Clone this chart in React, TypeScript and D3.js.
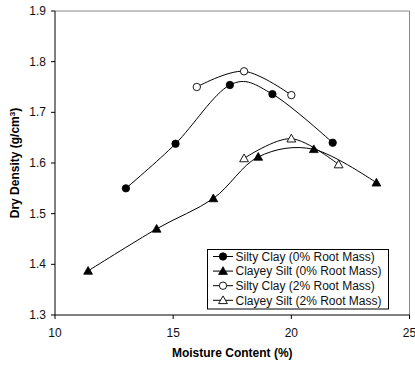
import React from "react";
import * as d3 from "d3";

const xTicks = [10, 15, 20, 25];
const yTicks = [1.3, 1.4, 1.5, 1.6, 1.7, 1.8, 1.9];

const siltyClay0X = [13.0, 15.1, 17.4, 19.2, 21.75];
const siltyClay0Y = [1.55, 1.638, 1.754, 1.736, 1.64];
const clayeySilt0X = [11.4, 14.3, 16.7, 18.6, 20.95, 23.6];
const clayeySilt0Y = [1.387, 1.47, 1.53, 1.612, 1.627, 1.561];
const siltyClay2X = [16.0, 18.0, 20.0];
const siltyClay2Y = [1.75, 1.781, 1.734];
const clayeySilt2X = [18.0, 20.0, 22.0];
const clayeySilt2Y = [1.609, 1.648, 1.597];

const seriesNames = [
  "Silty Clay (0% Root Mass)",
  "Clayey Silt (0% Root Mass)",
  "Silty Clay (2% Root Mass)",
  "Clayey Silt (2% Root Mass)",
];

type Series = { name: string; xs: number[]; ys: number[]; shape: "circle" | "triangle"; filled: boolean };

const series: Series[] = [
  { name: seriesNames[0], xs: siltyClay0X, ys: siltyClay0Y, shape: "circle", filled: true },
  { name: seriesNames[1], xs: clayeySilt0X, ys: clayeySilt0Y, shape: "triangle", filled: true },
  { name: seriesNames[2], xs: siltyClay2X, ys: siltyClay2Y, shape: "circle", filled: false },
  { name: seriesNames[3], xs: clayeySilt2X, ys: clayeySilt2Y, shape: "triangle", filled: false },
];

const FONT = "'Liberation Sans', Arial, sans-serif";

function Marker({ x, y, shape, filled }: { x: number; y: number; shape: string; filled: boolean }) {
  const fill = filled ? "#000" : "#fff";
  if (shape === "circle") {
    return <circle cx={x} cy={y} r={3.7} fill={fill} stroke="#000" strokeWidth={filled ? 0.8 : 0.9} />;
  }
  const s = 4.4;
  const pts = `${x},${y - s} ${x + s},${y + s * 0.75} ${x - s},${y + s * 0.75}`;
  return <polygon points={pts} fill={fill} stroke="#000" strokeWidth={filled ? 0.8 : 0.9} />;
}

export default function App() {
  const W = 415;
  const H = 367;
  const left = 55;
  const right = 409.5;
  const top = 11;
  const bottom = 315;
  const x = d3.scaleLinear().domain([10, 25]).range([left, right]);
  const y = d3.scaleLinear().domain([1.3, 1.9]).range([bottom, top]);
  const line = d3
    .line<[number, number]>()
    .x((d) => x(d[0]))
    .y((d) => y(d[1]))
    .curve(d3.curveCardinal.tension(0));

  const legX = 207.5;
  const legY = 249.5;
  const legW = 181;
  const legH = 59.5;
  const rowY = (i: number) => 256.5 + i * 14.6;

  return (
    <svg width={W} height={H} style={{ position: "absolute", left: 0, top: 0, background: "#fff" }} fontFamily={FONT}>
      <rect x={0} y={0} width={W} height={H} fill="#fff" />
      {/* plot frame */}
      <line x1={left} y1={top} x2={right} y2={top} stroke="#888" strokeWidth={1} />
      <line x1={right} y1={top} x2={right} y2={bottom} stroke="#888" strokeWidth={1} />
      <line x1={left} y1={top} x2={left} y2={bottom} stroke="#000" strokeWidth={1} />
      <line x1={left} y1={bottom} x2={right} y2={bottom} stroke="#000" strokeWidth={1} />
      {/* y ticks */}
      {yTicks.map((t) => (
        <g key={"y" + t}>
          <line x1={left - 4} x2={left} y1={y(t)} y2={y(t)} stroke="#000" />
          <text x={left - 9} y={y(t) + 4} textAnchor="end" fontSize={12} fill="#111">
            {t.toFixed(1)}
          </text>
        </g>
      ))}
      {/* x ticks */}
      {xTicks.map((t) => (
        <g key={"x" + t}>
          <line x1={x(t)} x2={x(t)} y1={bottom} y2={bottom + 4} stroke="#000" />
          <text x={x(t)} y={bottom + 22} textAnchor="middle" fontSize={12} fill="#111">
            {t}
          </text>
        </g>
      ))}
      {/* axis titles */}
      <text x={(left + right) / 2} y={357} textAnchor="middle" fontSize={12} fontWeight="bold" fill="#000">
        Moisture Content (%)
      </text>
      <text
        transform={`translate(19,${(top + bottom) / 2}) rotate(-90)`}
        textAnchor="middle"
        fontSize={12}
        fontWeight="bold"
        fill="#000"
      >
        Dry Density (g/cm<tspan dy={-4} fontSize={8}>3</tspan>
        <tspan dy={4}>)</tspan>
      </text>
      {/* series */}
      {series.map((s, si) => {
        const pts = s.xs.map((v, i) => [v, s.ys[i]] as [number, number]);
        return (
          <g key={si}>
            <path d={line(pts) || ""} fill="none" stroke="#000" strokeWidth={1} />
            {pts.map((p, i) => (
              <Marker key={i} x={x(p[0])} y={y(p[1])} shape={s.shape} filled={s.filled} />
            ))}
          </g>
        );
      })}
      {/* legend */}
      <rect x={legX} y={legY} width={legW} height={legH} fill="#fff" stroke="#000" strokeWidth={1} />
      {series.map((s, i) => (
        <g key={"l" + i}>
          <line x1={213} x2={233} y1={rowY(i)} y2={rowY(i)} stroke="#000" />
          <Marker x={223} y={rowY(i)} shape={s.shape} filled={s.filled} />
          <text x={235.5} y={rowY(i) + 4.2} fontSize={12} fill="#111">
            {s.name}
          </text>
        </g>
      ))}
    </svg>
  );
}
